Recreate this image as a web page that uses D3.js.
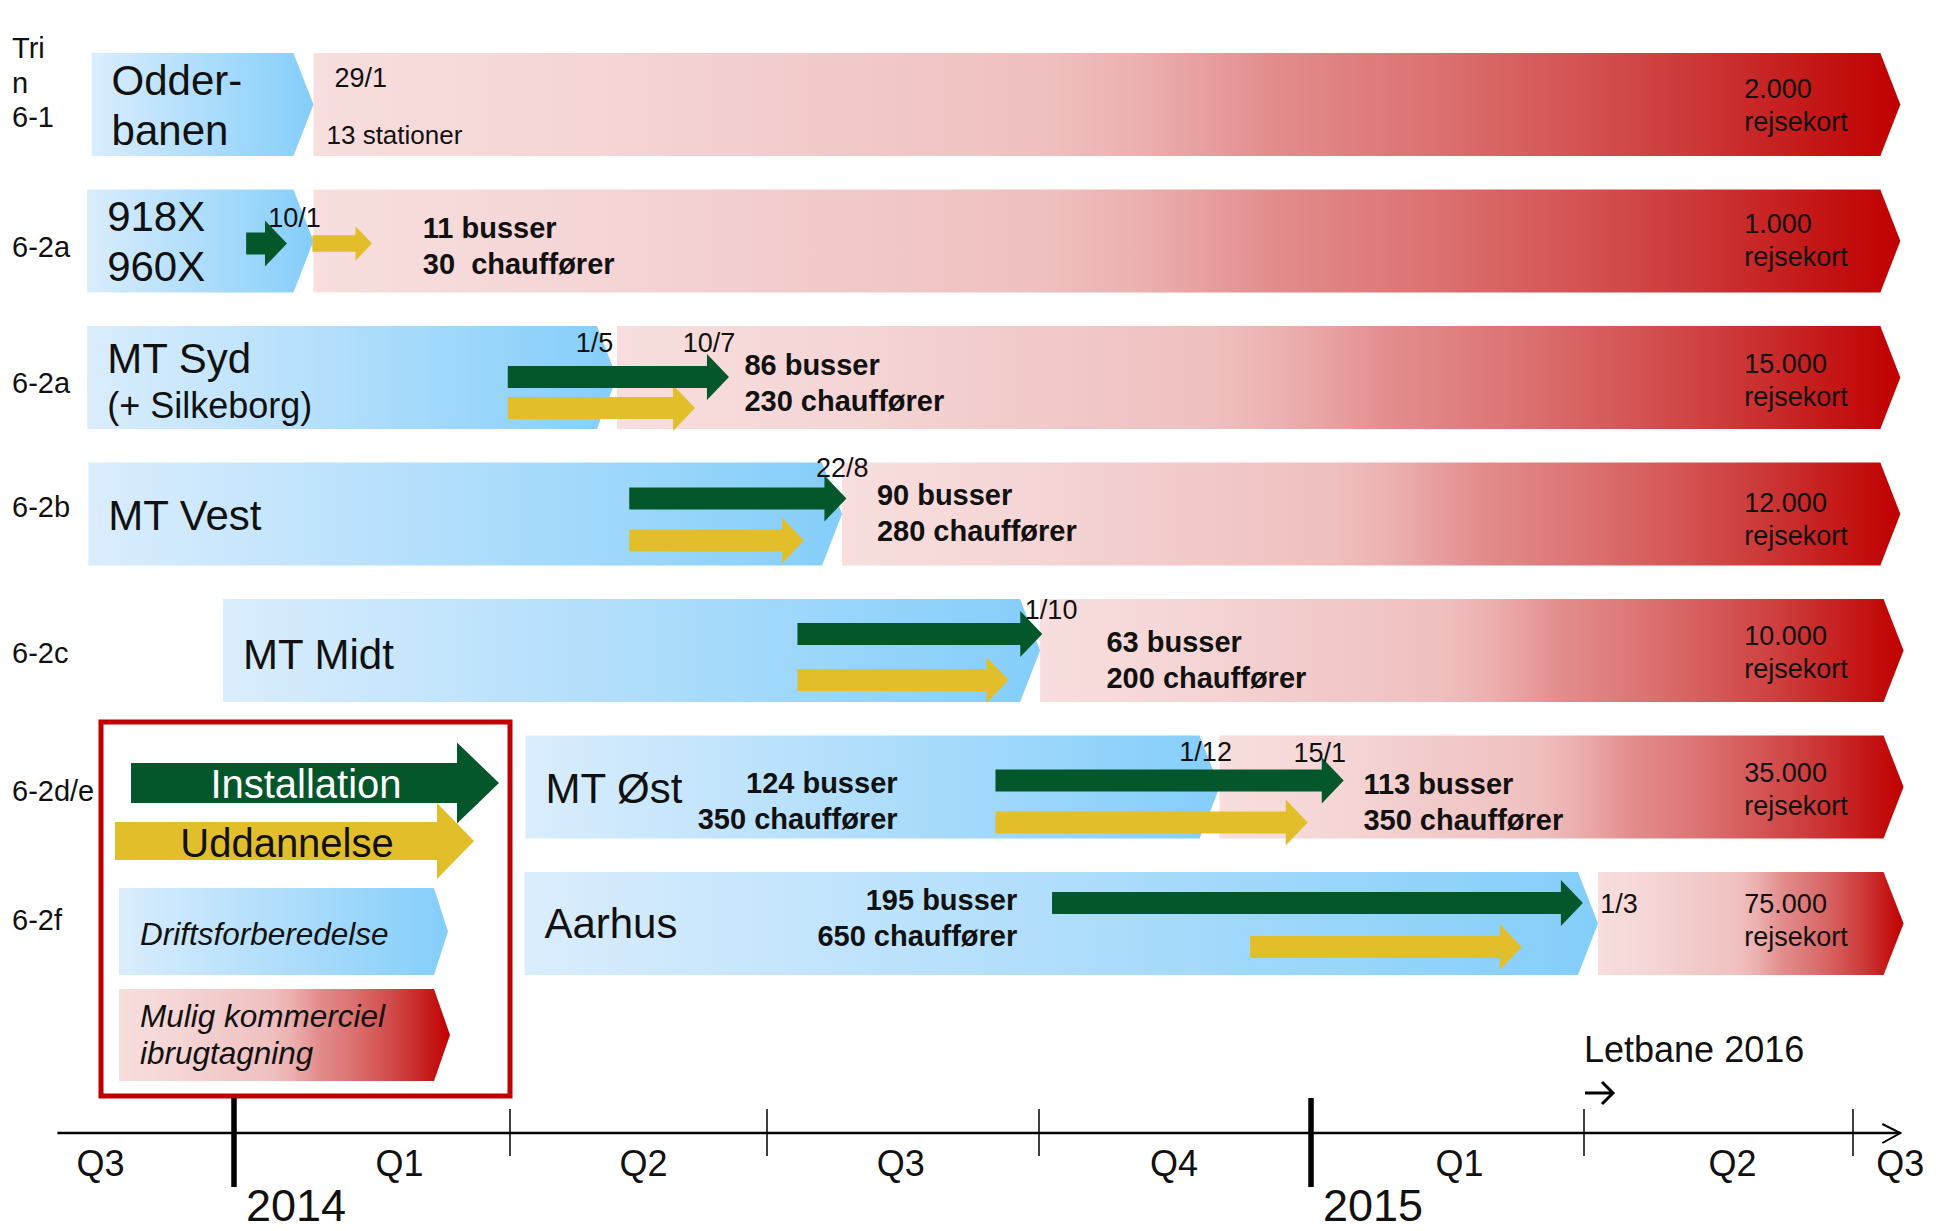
<!DOCTYPE html>
<html>
<head>
<meta charset="utf-8">
<script src="https://cdnjs.cloudflare.com/ajax/libs/d3/7.8.5/d3.min.js"></script>
<style>
body { margin: 0; background: #fff; }
svg text { font-family: "Liberation Sans", Arial, Helvetica, sans-serif; fill: #111; }
</style>
</head>
<body>
<div id="chart"></div>
<script>
// ---- data (times are decimal years) ----
var rowIds = [["Tri", "n", "6-1"], ["6-2a"], ["6-2a"], ["6-2b"], ["6-2c"], ["6-2d/e"], ["6-2f"]]
var rowNames = [["Odder-", "banen"], ["918X", "960X"], ["MT Syd", "(+ Silkeborg)"], ["MT Vest"], ["MT Midt"], ["MT Øst"], ["Aarhus"]]

var prepStart = [2013.871, 2013.867, 2013.867, 2013.868, 2013.990, 2014.265, 2014.264]
var goLive = [2014.072, 2014.072, 2014.354, 2014.569, 2014.751, 2014.916, 2015.263]
var runEnd = [2015.544, 2015.544, 2015.544, 2015.544, 2015.547, 2015.547, 2015.547]

// [row, from, to]
var installs = [[1, 2014.011, 2014.048], [2, 2014.248, 2014.463], [3, 2014.366, 2014.573],
    [4, 2014.528, 2014.753], [5, 2014.710, 2015.030], [6, 2014.762, 2015.249]]
var trainings = [[1, 2014.071, 2014.125], [2, 2014.248, 2014.430], [3, 2014.366, 2014.534],
    [4, 2014.528, 2014.722], [5, 2014.710, 2014.997], [6, 2014.944, 2015.193]]

// [row, at, text]
var dateMarks = [[0, 2014.091, "29/1"], [1, 2014.031, "10/1"], [2, 2014.314, "1/5"], [2, 2014.418, "10/7"],
    [3, 2014.545, "22/8"], [4, 2014.737, "1/10"], [5, 2014.879, "1/12"], [5, 2014.984, "15/1"], [6, 2015.265, "1/3"]]

var busRows = [1, 2, 3, 4, 5, 5, 6]
var busAt = [2014.171, 2014.478, 2014.601, 2014.812, 2014.620, 2015.048, 2014.730]
var busText = ["11 busser", "86 busser", "90 busser", "63 busser", "124 busser", "113 busser", "195 busser"]
var driverText = ["30  chauffører", "230 chauffører", "280 chauffører", "200 chauffører", "350 chauffører", "350 chauffører", "650 chauffører"]

var cards = ["2.000", "1.000", "15.000", "12.000", "10.000", "35.000", "75.000"]
var cardAt = 2015.399
var stationText = "13 stationer"

var quarterBreaks = [2014, 2014.25, 2014.5, 2014.75, 2015, 2015.25, 2015.5]
var yearTicks = [2014, 2015]
var quarterTicks = [2014.25, 2014.5, 2014.75, 2015.25, 2015.5]
var quarterNames = ["Q3", "Q1", "Q2", "Q3", "Q4", "Q1", "Q2", "Q3"]
var quarterAt = [2013.879, 2014.150, 2014.380, 2014.623, 2014.874, 2015.136, 2015.388, 2015.544]
var axisFrom = 2013.840, axisTo = 2015.544
var letbane = [2015.25, "Letbane 2016"]

var legendNames = ["Installation", "Uddannelse", "Driftsforberedelse", ["Mulig kommerciel", "ibrugtagning"]]

// ---- layout (offsets inside a row band) ----
var idDy = [74, 68, 67, 55, 64, 66, 58]
var nameDy = [42, 42, 47, 68, 70, 68, 66]
var nameSize = [[42, 42], [42, 42], [42, 36], [42], [42], [42], [42]]
var greenDy = [0, 54, 51, 36, 35, 45, 31]
var yellowDy = [0, 54, 82, 78, 81, 87, 75]
var dateDy = [34, 37.5, 26, 26, 14.5, 20, 25.5, 26.5, 41]
var busDy = [48.5, 49, 42.5, 53, 57.5, 58.5, 38]
var busAnchor = ["start", "start", "start", "start", "end", "start", "end"]
var cardDy = [45, 44, 47, 50, 46, 47, 41]

var green = "#03572b", yellow = "#e2bf2a", darkRed = "#c00000"

function chart() {
    var W = 1945, H = 1231

    var svg = d3.select("#chart").append("svg")
        .attr("width", W)
        .attr("height", H)

    var defs = svg.append("defs")

    function gradient(id, stops) {
        var g = defs.append("linearGradient")
            .attr("id", id)
            .attr("x1", 0).attr("x2", 1).attr("y1", 0).attr("y2", 0)
        stops.forEach(function(s) {
            g.append("stop").attr("offset", s[0]).attr("stop-color", s[1])
        })
    }
    gradient("blueFade", [[0, "#daedfd"], [1, "#84cefa"]])
    gradient("redFade", [[0, "#f8dede"], [0.18, "#f5d5d5"], [0.32, "#f2caca"], [0.46, "#f0c0c0"],
        [0.52, "#ecb0b0"], [0.6, "#e38e8e"], [0.7, "#dc7373"], [0.785, "#d55757"],
        [0.87, "#cc3838"], [0.95, "#c41515"], [1, darkRed]])

    var x = d3.scaleLinear()
        .domain(quarterBreaks)
        .range([234, 510, 767, 1039, 1311, 1584, 1853])

    var y = d3.scaleBand()
        .domain(d3.range(rowNames.length))
        .range([53, 975])
        .paddingInner(0.2454)

    var bh = y.bandwidth()

    function chevron(x0, x1, top, h, depth) {
        return "M" + x0 + "," + top + "H" + (x1 - depth) + "L" + x1 + "," + (top + h / 2) +
            "L" + (x1 - depth) + "," + (top + h) + "H" + x0 + "Z"
    }

    function arrow(x0, x1, yc, shaft, head, len) {
        return "M" + x0 + "," + (yc - shaft / 2) + "H" + (x1 - len) + "V" + (yc - head / 2) +
            "L" + x1 + "," + yc + "L" + (x1 - len) + "," + (yc + head / 2) +
            "V" + (yc + shaft / 2) + "H" + x0 + "Z"
    }

    function text(g, px, py, str, size, opts) {
        opts = opts || {}
        return g.append("text")
            .attr("x", px)
            .attr("y", py)
            .attr("font-size", size)
            .attr("font-weight", opts.bold ? "bold" : null)
            .attr("font-style", opts.italic ? "italic" : null)
            .attr("text-anchor", opts.anchor || "start")
            .style("white-space", "pre")
            .style("fill", opts.fill || null)
            .text(str)
    }

    // ---- bars ----
    var rows = d3.range(rowNames.length)
    var bars = svg.append("g")

    bars.selectAll(".prep")
        .data(rows)
        .join("path")
        .attr("class", "prep")
        .attr("d", i => chevron(x(prepStart[i]), x(goLive[i]), y(i), bh, 20))
        .attr("fill", "url(#blueFade)")

    bars.selectAll(".run")
        .data(rows)
        .join("path")
        .attr("class", "run")
        .attr("d", i => chevron(x(goLive[i]), x(runEnd[i]), y(i), bh, 20))
        .attr("fill", "url(#redFade)")

    // ---- arrows ----
    var arrows = svg.append("g")
    arrows.selectAll(".train")
        .data(trainings)
        .join("path")
        .attr("class", "train")
        .attr("d", function(d) {
            var k = d[0] == 1 ? 0.75 : 1
            return arrow(x(d[1]), x(d[2]), y(d[0]) + yellowDy[d[0]], 22 * k, 46 * k, 22 * k)
        })
        .attr("fill", yellow)

    arrows.selectAll(".inst")
        .data(installs)
        .join("path")
        .attr("class", "inst")
        .attr("d", d => arrow(x(d[1]), x(d[2]), y(d[0]) + greenDy[d[0]], 22, 46, 22))
        .attr("fill", green)

    // ---- texts ----
    var labels = svg.append("g")

    rows.forEach(function(i) {
        var ids = rowIds[i]
        ids.forEach(function(t, j) {
            text(labels, 12, y(i) + idDy[i] - (ids.length - 1 - j) * 34.5, t, 29)
        })
        rowNames[i].forEach(function(t, j) {
            var py = j == 0 ? y(i) + nameDy[i] : y(i) + 92
            text(labels, x(prepStart[i]) + 20, py, t, nameSize[i][j])
        })
        text(labels, x(cardAt), y(i) + cardDy[i], cards[i], 27)
        text(labels, x(cardAt), y(i) + cardDy[i] + 33, "rejsekort", 27)
    })

    text(labels, x(goLive[0]) + 13, y(0) + 91, stationText, 26)

    dateMarks.forEach(function(d, k) {
        text(labels, x(d[1]), y(d[0]) + dateDy[k], d[2], 27)
    })

    busText.forEach(function(t, k) {
        var r = busRows[k]
        text(labels, x(busAt[k]), y(r) + busDy[k], t, 29, {bold: true, anchor: busAnchor[k]})
        text(labels, x(busAt[k]), y(r) + busDy[k] + 36, driverText[k], 29, {bold: true, anchor: busAnchor[k]})
    })

    // ---- legend ----
    var legend = svg.append("g")
    legend.append("rect")
        .attr("x", 101).attr("y", 722)
        .attr("width", 409).attr("height", 374)
        .attr("fill", "#fff")
        .attr("stroke", darkRed)
        .attr("stroke-width", 5)

    legend.append("path").attr("d", arrow(115, 474, 841, 38, 76, 37)).attr("fill", yellow)
    legend.append("path").attr("d", arrow(131, 499, 783, 40, 81, 42)).attr("fill", green)
    text(legend, 306, 798, legendNames[0], 40, {anchor: "middle", fill: "#fff"})
    text(legend, 287, 857, legendNames[1], 40, {anchor: "middle"})

    legend.append("path").attr("d", chevron(119, 448, 888, 87, 14)).attr("fill", "url(#blueFade)")
    text(legend, 140, 945, legendNames[2], 31.5, {italic: true})

    legend.append("path").attr("d", chevron(119, 450, 989, 92, 16)).attr("fill", "url(#redFade)")
    text(legend, 140, 1027, legendNames[3][0], 31.5, {italic: true})
    text(legend, 140, 1064, legendNames[3][1], 31.5, {italic: true})

    // ---- time axis ----
    var axis = svg.append("g")
    var ay = 1133

    axis.append("line")
        .attr("x1", x(axisFrom)).attr("x2", x(axisTo))
        .attr("y1", ay).attr("y2", ay)
        .attr("stroke", "#000").attr("stroke-width", 2.5)

    axis.append("path")
        .attr("d", "M" + (x(axisTo) - 18) + "," + (ay - 9) + "L" + x(axisTo) + "," + ay + "L" + (x(axisTo) - 18) + "," + (ay + 10))
        .attr("fill", "none").attr("stroke", "#000").attr("stroke-width", 2)

    axis.selectAll(".qtick")
        .data(quarterTicks)
        .join("line")
        .attr("class", "qtick")
        .attr("x1", d => x(d)).attr("x2", d => x(d))
        .attr("y1", ay - 24).attr("y2", ay + 23)
        .attr("stroke", "#000").attr("stroke-width", 1.5)

    axis.selectAll(".ytick")
        .data(yearTicks)
        .join("line")
        .attr("class", "ytick")
        .attr("x1", d => x(d)).attr("x2", d => x(d))
        .attr("y1", ay - 35).attr("y2", ay + 54)
        .attr("stroke", "#000").attr("stroke-width", 5.5)

    quarterNames.forEach(function(q, k) {
        text(axis, x(quarterAt[k]), 1176, q, 36, {anchor: "middle"})
    })
    yearTicks.forEach(function(yr) {
        text(axis, x(yr) + 12, 1221, String(yr), 45)
    })

    // letbane marker
    var lx = x(letbane[0])
    text(axis, lx, 1062, letbane[1], 36)
    axis.append("path")
        .attr("d", "M" + (lx + 1) + ",1093H" + (lx + 29) + "M" + (lx + 18) + ",1082L" + (lx + 29) + ",1093L" + (lx + 18) + ",1104")
        .attr("fill", "none").attr("stroke", "#000").attr("stroke-width", 3)
}

chart()
</script>
</body>
</html>
